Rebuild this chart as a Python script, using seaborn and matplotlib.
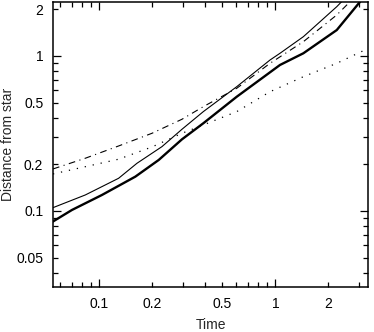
import numpy as np
import pandas as pd
import matplotlib
matplotlib.use("Agg")
import matplotlib.pyplot as plt
from matplotlib.ticker import FixedLocator, FuncFormatter
import seaborn as sns

# ---- data ----
thick_t = [0.0546, 0.0700, 0.1036, 0.1603, 0.2176, 0.2951, 0.390, 0.604, 1.063, 1.443, 2.233, 3.03]
thick_d = [0.0855, 0.1015, 0.1268, 0.1665, 0.2133, 0.290, 0.368, 0.546, 0.875, 1.041, 1.47, 2.24]

thin_t = [0.0546, 0.0833, 0.1288, 0.1637, 0.227, 0.295, 0.390, 0.604, 0.933, 1.063, 1.443, 2.233, 2.38]
thin_d = [0.105, 0.1268, 0.1625, 0.203, 0.260, 0.3366, 0.4375, 0.634, 0.942, 1.041, 1.332, 2.08, 2.24]

dashdot_t = [0.0546, 0.0833, 0.1288, 0.1993, 0.295, 0.390, 0.604, 0.933, 1.443, 2.233, 2.657]
dashdot_d = [0.1866, 0.2188, 0.2626, 0.3171, 0.3906, 0.471, 0.619, 0.897, 1.237, 1.839, 2.24]

dotted_t = [0.0546, 0.0833, 0.1288, 0.1993, 0.295, 0.390, 0.604, 0.933, 1.443, 2.233, 3.38]
dotted_d = [0.1733, 0.193, 0.2157, 0.2588, 0.3171, 0.359, 0.4375, 0.588, 0.735, 0.897, 1.121]

x_labels = [0.1, 0.2, 0.5, 1, 2]
y_labels = [0.05, 0.1, 0.2, 0.5, 1, 2]

sns.set_style("ticks")
plt.rcParams['font.family'] = ['Liberation Sans', 'DejaVu Sans']

fig, ax = plt.subplots(figsize=(3.74, 3.32), dpi=100)
fig.subplots_adjust(left=53/374, right=368/374, top=1-2/332, bottom=1-287/332)

series = [
    (thick_t, thick_d, dict(lw=1.7, linestyle='-')),
    (thin_t, thin_d, dict(lw=0.8, linestyle='-')),
    (dashdot_t, dashdot_d, dict(lw=0.8, linestyle=(0, (6, 4, 1, 4)))),
    (dotted_t, dotted_d, dict(lw=0.9, linestyle=(0, (1, 5.5)))),
]
for t, d, kw in series:
    df = pd.DataFrame({'Time': t, 'Distance': d})
    sns.lineplot(data=df, x='Time', y='Distance', ax=ax, color='black',
                 sort=False, estimator=None, **kw)

ax.set_xscale('log')
ax.set_yscale('log')
ax.set_xlim(0.0546, 3.36)
ax.set_ylim(0.0323, 2.23)

def fmt(v, pos=None):
    for L in x_labels + y_labels:
        if abs(v - L) < 1e-9 * max(1, L) + 1e-12:
            return ('%g' % L)
    return ''

maj = [0.01, 0.1, 1, 10]
minor = [m * 10.0 ** e for e in (-2, -1, 0) for m in range(2, 10)]
for axis in (ax.xaxis, ax.yaxis):
    axis.set_major_locator(FixedLocator(maj))
    axis.set_minor_locator(FixedLocator(minor))
    axis.set_major_formatter(FuncFormatter(fmt))
    axis.set_minor_formatter(FuncFormatter(fmt))

ax.tick_params(which='both', direction='in', top=True, right=True,
               color='black', width=0.9, labelsize=10, pad=7, labelcolor='black')
ax.tick_params(which='major', length=5.5)
ax.tick_params(which='minor', length=3.8)

for s in ax.spines.values():
    s.set_linewidth(1.1)
    s.set_color('black')
    s.set_visible(True)

ax.set_xlabel('Time', fontsize=10)
ax.set_ylabel('Distance from star', fontsize=10)
ax.xaxis.set_label_coords(0.5, -0.108)
ax.yaxis.set_label_coords(-0.122, 0.5)

fig.savefig('out.png', dpi=100)
